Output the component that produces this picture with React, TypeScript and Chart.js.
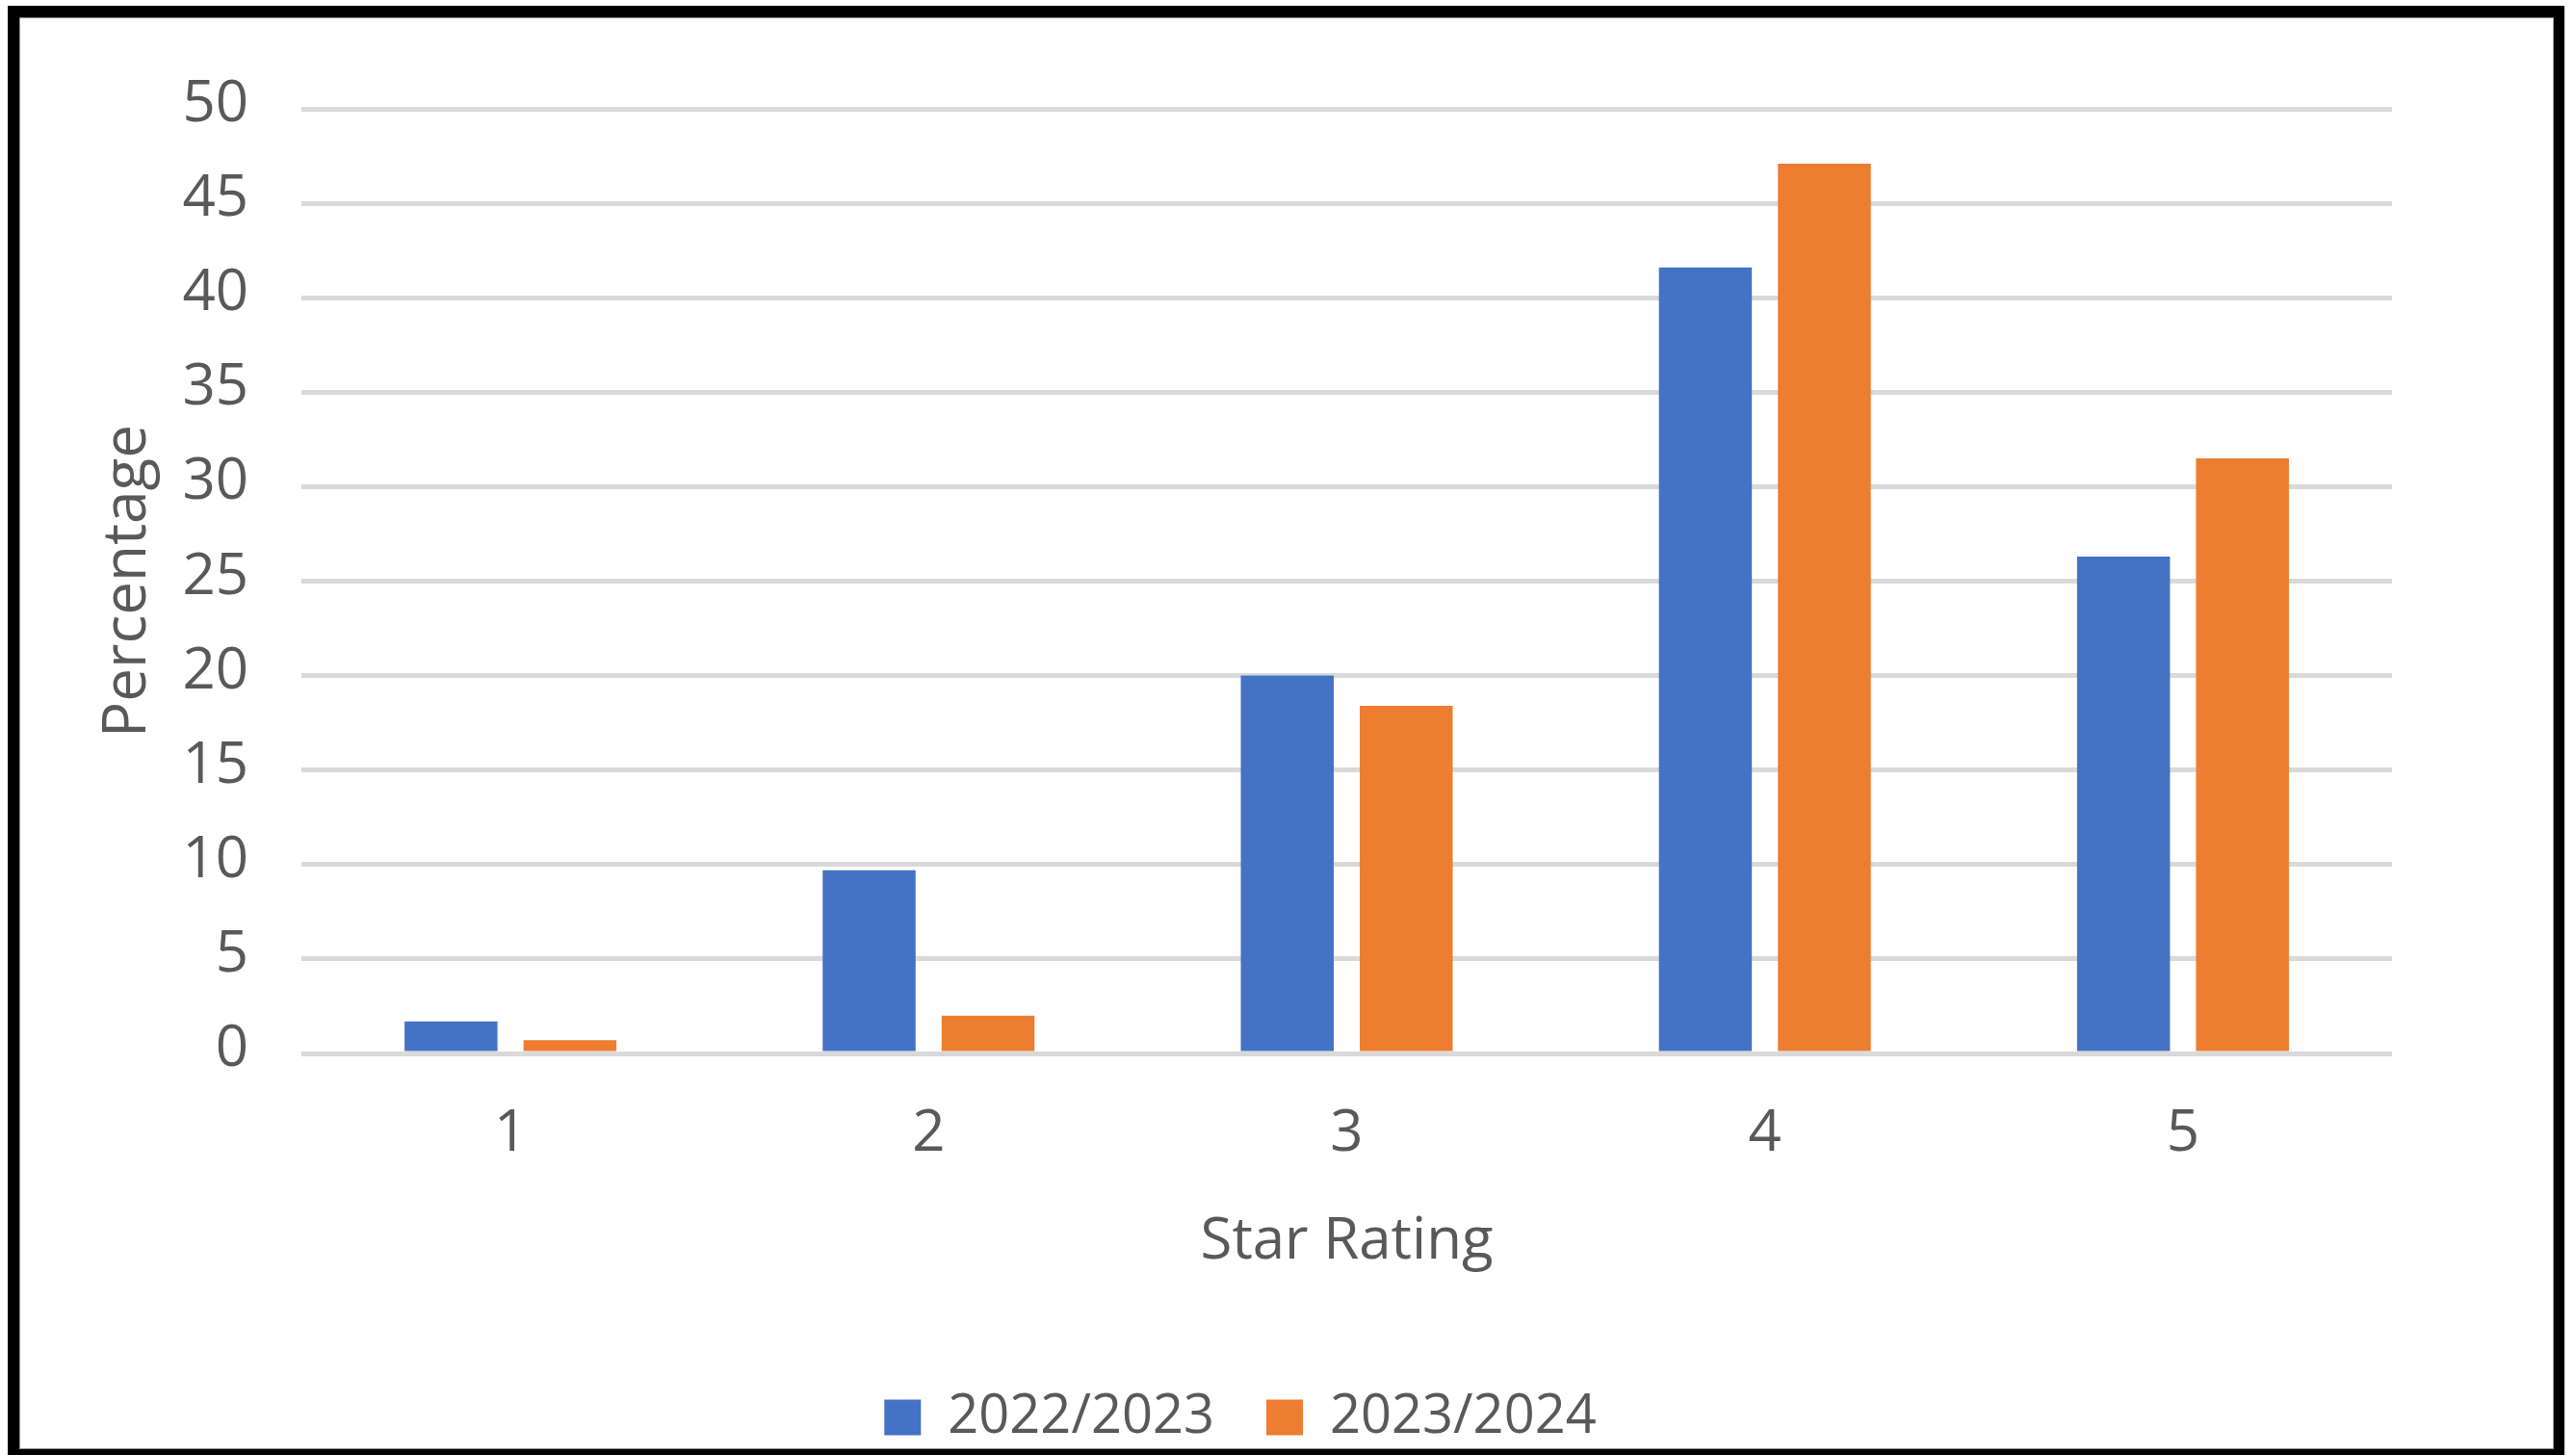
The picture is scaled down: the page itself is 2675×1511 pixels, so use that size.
import React, { useEffect, useRef } from "react";
import { Chart, registerables } from "chart.js";

Chart.register(...registerables);

// ---- data ----
const categories = ["1", "2", "3", "4", "5"];
const seriesNames = ["2022/2023", "2023/2024"];
const values2022 = [1.7, 9.7, 20.0, 41.6, 26.3];
const values2023 = [0.7, 2.0, 18.4, 47.1, 31.5];
const yMin = 0;
const yMax = 50;
const yStep = 5;
const xTitle = "Star Rating";
const yTitle = "Percentage";

// ---- styles ----
const BLUE = "#4472C4";
const ORANGE = "#ED7D31";
const TEXT = "#595959";
const GRID = "#d9d9d9";
const FONT = "'Open Sans', 'Noto Sans', sans-serif";

const W = 2675;
const H = 1511;

export default function App() {
  const ref = useRef<HTMLCanvasElement | null>(null);

  useEffect(() => {
    const canvas = ref.current;
    if (!canvas) return;
    const chart = new Chart(canvas, {
      type: "bar",
      data: {
        labels: categories,
        datasets: [
          {
            label: seriesNames[0],
            data: values2022,
            backgroundColor: BLUE,
            borderWidth: 0,
          },
          {
            label: seriesNames[1],
            data: values2023,
            backgroundColor: ORANGE,
            borderWidth: 0,
          },
        ],
      },
      options: {
        animation: false,
        responsive: false,
        devicePixelRatio: 1,
        datasets: {
          bar: {
            categoryPercentage: 0.569,
            barPercentage: 0.781,
          },
        },
        layout: {
          padding: { top: 113, left: 92, right: 191, bottom: 1 },
        },
        plugins: {
          tooltip: { enabled: false },
          title: { display: false },
          legend: {
            display: true,
            position: "bottom",
            align: "center",
            labels: {
              color: TEXT,
              font: { family: FONT, size: 56 },
              boxWidth: 38,
              boxHeight: 37,
              padding: 54,
            },
          },
        },
        scales: {
          x: {
            type: "category",
            grid: { display: false, drawTicks: false },
            border: { display: false },
            ticks: {
              color: TEXT,
              font: { family: FONT, size: 60, lineHeight: 1.2 },
              padding: 48,
              maxRotation: 0,
            },
            title: {
              display: true,
              text: xTitle,
              color: TEXT,
              font: { family: FONT, size: 60, lineHeight: 1 },
              padding: { top: 0, bottom: 70 },
            },
            afterFit: (scale: any) => {
              scale.height = 296;
            },
          },
          y: {
            type: "linear",
            min: yMin,
            max: yMax,
            grid: {
              color: GRID,
              lineWidth: 5,
              drawTicks: false,
            },
            border: { display: false },
            ticks: {
              stepSize: yStep,
              color: TEXT,
              font: { family: FONT, size: 60 },
              padding: 55,
              labelOffset: -4,
            },
            title: {
              display: true,
              text: yTitle,
              color: TEXT,
              font: { family: FONT, size: 62, lineHeight: 1 },
              padding: { top: 10, bottom: 0 },
            },
            afterFit: (scale: any) => {
              scale.width = 221;
            },
          },
        },
      },
    });
    return () => chart.destroy();
  }, []);

  return (
    <div>
      <canvas
        ref={ref}
        width={W}
        height={H}
        style={{ position: "absolute", left: 0, top: 0, width: W, height: H }}
      />
      <div
        style={{
          position: "absolute",
          left: 8,
          top: 6,
          width: 2655,
          height: 1505,
          boxSizing: "border-box",
          borderStyle: "solid",
          borderColor: "#000",
          borderLeftWidth: 12,
          borderTopWidth: 12,
          borderRightWidth: 11,
          borderBottomWidth: 6,
          pointerEvents: "none",
        }}
      />
      <div
        style={{
          position: "absolute",
          left: 20,
          top: 18,
          width: 2632,
          height: 1487,
          boxSizing: "border-box",
          border: "1px solid #8c8c8c",
          pointerEvents: "none",
        }}
      />
    </div>
  );
}
